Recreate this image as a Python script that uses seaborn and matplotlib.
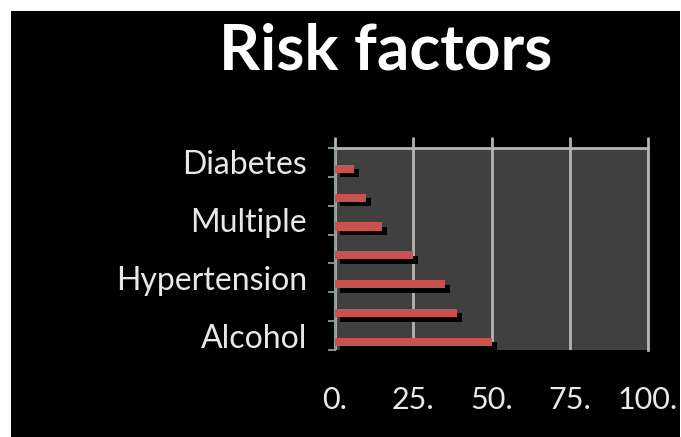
import numpy as np
import matplotlib
matplotlib.use("Agg")
import matplotlib.pyplot as plt
import matplotlib.patheffects as pe
from matplotlib.patches import Rectangle
from matplotlib.ticker import FixedLocator
import seaborn as sns

# Risk factor shares (%), top to bottom; only every other category is labelled
labels = ["Diabetes", "", "Multiple", "", "Hypertension", "", "Alcohol"]
values = [6, 10, 15, 25, 35, 39, 50]
x_ticks = [0, 25, 50, 75, 100]
x_tick_labels = ["0.", "25.", "50.", "75.", "100."]

sns.set_theme(style="dark")
plt.rcParams["font.family"] = ["Lato", "DejaVu Sans"]

W, H = 681, 437
fig = plt.figure(figsize=(W / 100, H / 100), dpi=100)
fig.patch.set_facecolor("white")
fig.add_artist(Rectangle((11 / W, 0), 1 - 12 / W, 1 - 11 / H,
                         transform=fig.transFigure, facecolor="black",
                         edgecolor="none", zorder=0))

ax = fig.add_axes([335 / W, 87 / H, 313 / W, 202 / H])
ax.set_facecolor("#404040")

n = len(values)
pos = np.arange(n) + 0.22
sns.barplot(x=values, y=pos, orient="h", native_scale=True, width=0.28,
            color="#c8524f", saturation=1, edgecolor="none", ax=ax, zorder=3)
for bar in ax.patches:
    bar.set_path_effects([
        pe.SimplePatchShadow(offset=(3.6, -3.2), shadow_rgbFace="black", alpha=1.0),
        pe.Normal(),
    ])

ax.set_xlim(0, 100)
ax.set_ylim(n - 0.5, -0.5)

grid_col = "#b4b4b4"
text_col = "#e8e8e8"
ax.set_xticks(x_ticks)
ax.set_xticklabels(x_tick_labels)
ax.xaxis.grid(True, color=grid_col, linewidth=2, zorder=1)
ax.yaxis.grid(False)
ax.set_axisbelow(True)
ax.tick_params(axis="x", length=0, pad=26, labelsize=22, labelcolor=text_col)

ax.set_yticks(np.arange(n))
ax.set_yticklabels(labels)
ax.yaxis.set_minor_locator(FixedLocator(np.arange(n + 1) - 0.5))
ax.tick_params(axis="y", which="major", length=0, pad=20, labelsize=23,
               labelcolor=text_col)
ax.tick_params(axis="y", which="minor", left=True, length=5, width=1.2,
               color="#9aa6a6", direction="out")

for side in ("top", "right"):
    ax.spines[side].set_color(grid_col)
    ax.spines[side].set_linewidth(2)
ax.spines["left"].set_color("#8c9c9c")
ax.spines["left"].set_linewidth(1.5)
ax.spines["bottom"].set_visible(False)

# short tick marks standing above the top edge of the plot area
top = ax.secondary_xaxis("top")
top.set_xticks(x_ticks)
top.tick_params(length=8, width=2, color=grid_col, direction="out", labeltop=False)
top.spines["top"].set_visible(False)

ax.set_xlabel("")
ax.set_ylabel("")

fig.text(386 / W, 1 - 70 / H, "Risk factors", ha="center", va="baseline",
         fontsize=46, fontweight="bold", color="white")

fig.savefig("out.png", dpi=100, facecolor=fig.get_facecolor())
